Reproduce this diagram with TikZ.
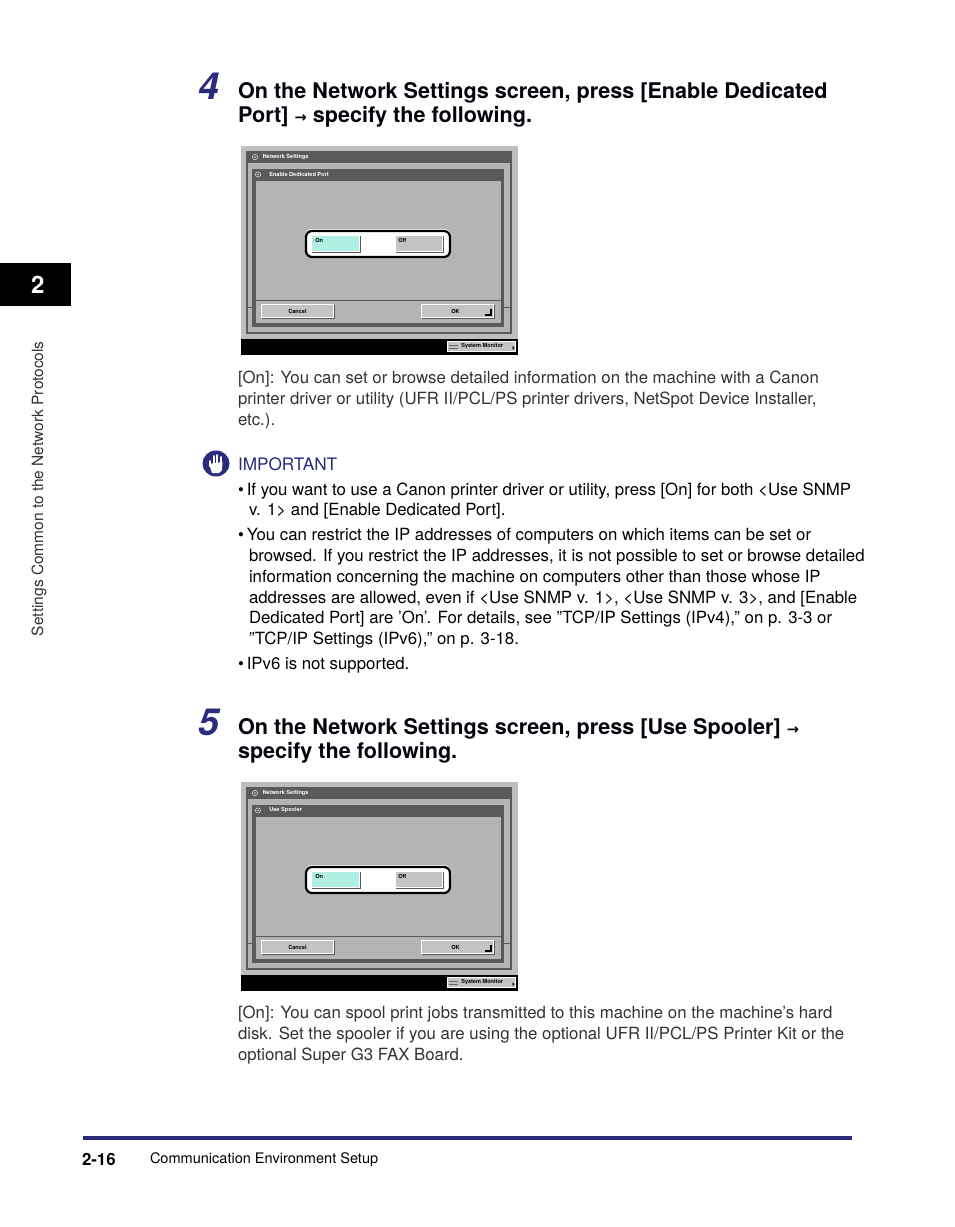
\documentclass[tikz,border=0pt]{standalone}
\usepackage{fontspec}
\setmainfont{TeX Gyre Heros}
\newfontfamily\arrowfont{DejaVu Sans}
\definecolor{navy}{HTML}{2B2A7C}
\definecolor{bodyc}{HTML}{333333}
\definecolor{panel}{HTML}{B4B4B4}
\definecolor{frameg}{HTML}{5A5A5A}
\definecolor{lightg}{HTML}{BEBEBE}
\definecolor{teal}{HTML}{B0F0E2}
\definecolor{btn}{HTML}{C4C4C4}
\newcommand\fsz[1]{\fontsize{#1}{#1}\selectfont}
\tikzset{
  x=0.75pt,y=-0.75pt,
  tl/.style={anchor=base west,inner sep=0pt,outer sep=0pt},
  head/.style={tl,font=\fsz{16.2}\bfseries,text=black!90!navy},
  light/.style={tl,font=\fsz{12.6},text=bodyc},
  imp/.style={tl,font=\fsz{12.6},text=black},
  stepnum/.style={tl,font=\fsz{28}\bfseries\itshape,text=navy},
  scr/.style={anchor=west,inner sep=0pt,font=\fsz{4.2}\bfseries},
}
\newcommand\ubutton[6]{% name x1 y1 x2 y2 fill
  \fill[black!65] (#2+1,#3+1) rectangle (#4+1,#5+1);
  \fill[white] (#2,#3) rectangle (#4,#5);
  \fill[#6] (#2+1,#3+1) rectangle (#4-1,#5-1);
  \coordinate (#1) at (#2,#3);
}
\newcommand\gear[3]{\draw[line width=0.45pt,white!85!black,fill=frameg] (#2,#3) circle (2.6);
  \fill[white!85!black] (#2,#3) circle (0.9);
  \coordinate (#1) at (#2,#3);}
\newcommand\screen[4]{% prefix, y offset, title, title x
\begin{scope}[shift={(0,#2)}]
  \fill[lightg] (241,146) rectangle (518,339);
  \fill[black] (241,339) rectangle (518,355);
  \fill[frameg] (246,151) rectangle (512,334);
  \fill[panel] (248,163) rectangle (510,332);
  \fill[frameg] (252,169) rectangle (504,327);
  \fill[panel] (256,181) rectangle (501,323);
  \draw[line width=0.6pt,frameg] (256,300) -- (501,300);
  \draw[line width=0.5pt,frameg] (248,307) -- (252,307) (504,307) -- (510,307);
  \gear{#1g1}{255}{157}
  \gear{#1g2}{258}{174.5}
  \node[scr,text=white] (#1t1) at (262.5,157.5) {Network Settings};
  \node[scr,text=white] (#1t2) at (#4,174.5) {#3};
  \fill[white,rounded corners=5pt] (305,229) rectangle (451,258);
  \draw[line width=1.7pt,black,rounded corners=4.5pt] (306,231) rectangle (450,257);
  \ubutton{#1on}{311}{235}{360}{252}{teal}
  \ubutton{#1off}{395}{235}{443}{252}{btn}
  \node[scr,text=black] (#1lon) at (315,240) {On};
  \node[scr,text=black] (#1loff) at (398,240) {Off};
  \ubutton{#1can}{261}{304}{334}{318}{btn}
  \ubutton{#1ok}{421}{304}{494}{318}{btn}
  \node[scr,text=black] (#1lcan) at (288,311.5) {Cancel};
  \node[scr,text=black] (#1lok) at (451,311.5) {OK};
  \draw[line width=0.8pt,black] (491,309) -- (491,315) -- (485,315);
  \fill[white] (447,341) rectangle (516,352);
  \fill[btn] (448,342) rectangle (515,351);
  \draw[line width=0.4pt,black!60] (449,345) -- (458,345) (449,348) -- (458,348);
  \node[scr,text=black] (#1lsm) at (461,346.5) {System Monitor};
  \fill[black] (512.5,346) -- (514.5,348) -- (512.5,350) -- cycle;
\end{scope}}
\begin{document}
\begin{tikzpicture}
\useasboundingbox (0,0) rectangle (954,1227);
\fill[white] (0,0) rectangle (954,1227);
% tab
\node[fill=black,text=white,font=\fsz{18}\bfseries,minimum width=53.25pt,minimum height=32.25pt,inner sep=0pt,anchor=north west] (tab) at (0,263) {\hspace*{3pt}2};
\node[tl,rotate=90,font=\fsz{11.6},text=bodyc] (side) at (43,636) {Settings Common to the Network Protocols};
% step 4
\node[stepnum] (n4) at (198,100) {4};
\node[head] (h4a) at (238,99) {On the Network Settings screen, press [Enable Dedicated};
\node[head] (h4b) at (238,123) {Port] {\arrowfont\fsz{11}→} specify the following.};
\screen{a}{0}{Enable Dedicated Port}{269}
\node[light] (b1) at (238,383) {[On]: You can set or browse detailed information on the machine with a Canon};
\node[light] (b2) at (238,404) {printer driver or utility (UFR II/PCL/PS printer drivers, NetSpot Device Installer,};
\node[light] (b3) at (238,425) {etc.).};
% important
\fill[navy] (216,463.5) circle[x radius=13.5,y radius=13];
\begin{scope}[white,line cap=round]
  \draw[line width=1.5pt] (210,461) -- (210,466);
  \draw[line width=1.5pt] (213.5,456) -- (213.5,464);
  \draw[line width=1.5pt] (217,455) -- (217,464);
  \draw[line width=1.5pt] (220.5,457) -- (220.5,464);
  \fill[white] (209,464) -- (222.5,462) -- (222,470) -- (219,473) -- (212,473) -- cycle;
\end{scope}
\node[tl,font=\fsz{12.9},text=navy] (imph) at (238,470) {IMPORTANT};
\node[imp] (i1) at (238,495) {\textbullet\hspace{2.2pt}If you want to use a Canon printer driver or utility, press [On] for both <Use SNMP};
\node[imp] (i1b) at (249,515) {v. 1> and [Enable Dedicated Port].};
\node[imp] (i2) at (238,540) {\textbullet\hspace{2.2pt}You can restrict the IP addresses of computers on which items can be set or};
\node[imp] (i2b) at (249,561) {browsed. If you restrict the IP addresses, it is not possible to set or browse detailed};
\node[imp] (i2c) at (249,582) {information concerning the machine on computers other than those whose IP};
\node[imp] (i2d) at (249,603) {addresses are allowed, even if <Use SNMP v. 1>, <Use SNMP v. 3>, and [Enable};
\node[imp] (i2e) at (249,623) {Dedicated Port] are 'On'. For details, see "TCP/IP Settings (IPv4)," on p. 3-3 or};
\node[imp] (i2f) at (249,644) {"TCP/IP Settings (IPv6)," on p. 3-18.};
\node[imp] (i3) at (238,669) {\textbullet\hspace{2.2pt}IPv6 is not supported.};
% step 5
\node[stepnum] (n5) at (198,735) {5};
\node[head] (h5a) at (238,734) {On the Network Settings screen, press [Use Spooler] {\arrowfont\fsz{11}→}};
\node[head] (h5b) at (238,758) {specify the following.};
\screen{b}{636}{Use Spooler}{269}
\node[light] (c1) at (238,1018) {[On]: You can spool print jobs transmitted to this machine on the machine's hard};
\node[light] (c2) at (238,1039) {disk. Set the spooler if you are using the optional UFR II/PCL/PS Printer Kit or the};
\node[light] (c3) at (238,1060) {optional Super G3 FAX Board.};
% footer
\fill[navy] (83,1136) rectangle (852,1140);
\node[tl,font=\fsz{12.6}\bfseries,text=black] (pg) at (82,1165) {2-16};
\node[tl,font=\fsz{10.9},text=black] (ft) at (150,1163) {Communication Environment Setup};
\end{tikzpicture}
\end{document}
